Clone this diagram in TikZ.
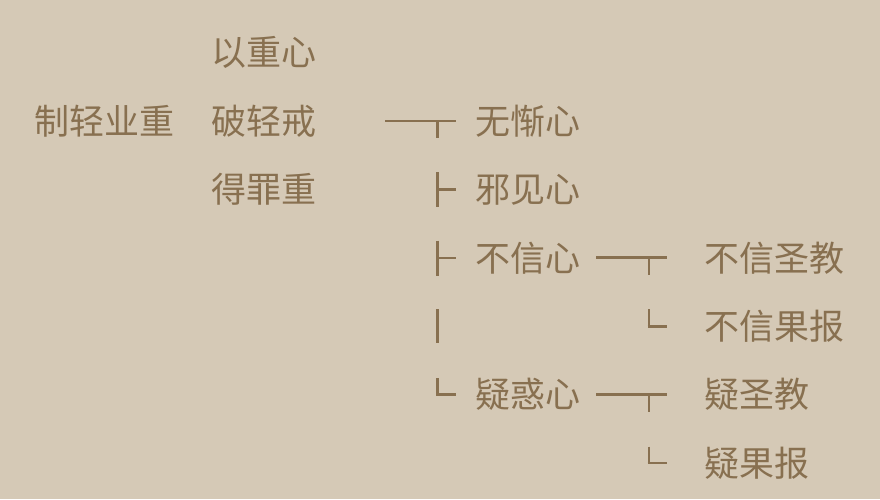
\documentclass[tikz,border=0pt]{standalone}
\usepackage{fontspec}
\newfontfamily\cjk{Noto Sans CJK SC}
\definecolor{bgc}{RGB}{213,201,182}
\definecolor{ink}{RGB}{136,112,80}
\tikzset{
  lbl/.style={anchor=west,inner sep=0pt,text=ink,font=\cjk\fontsize{35}{35}\selectfont},
  brk/.style={draw=ink,line width=2.8pt}
}
\begin{document}
\begin{tikzpicture}[x=1pt,y=-1pt]
\fill[bgc] (0,0) rectangle (880,499);
\useasboundingbox (0,0) rectangle (880,499);
% texts
\node[lbl] (a) at (34,121) {制轻业重};
\node[lbl] (b0) at (211,52.5) {以重心};
\node[lbl] (b1) at (211,121) {破轻戒};
\node[lbl] (b2) at (211,189.5) {得罪重};
\node[lbl] (c1) at (475,121) {无惭心};
\node[lbl] (c2) at (475,189.5) {邪见心};
\node[lbl] (c3) at (475,258) {不信心};
\node[lbl] (c5) at (475,394.5) {疑惑心};
\node[lbl] (d1) at (704,258) {不信圣教};
\node[lbl] (d2) at (704,326.5) {不信果报};
\node[lbl] (d3) at (704,394.5) {疑圣教};
\node[lbl] (d4) at (704,463) {疑果报};
% level 1 bracket
\coordinate (s1) at (385,121);
\coordinate (e1) at (456,121);
\coordinate (t1) at (437.5,121);
\coordinate (t1b) at (437.5,138);
\draw[brk] (s1) -- (e1);
\draw[brk] (t1) -- (t1b);
\coordinate (v2a) at (437.5,172);
\coordinate (v2b) at (437.5,207);
\coordinate (h2a) at (437.5,189.5);
\coordinate (h2b) at (456,189.5);
\draw[brk] (v2a) -- (v2b);
\draw[brk] (h2a) -- (h2b);
\coordinate (v3a) at (437.5,240.5);
\coordinate (v3b) at (437.5,275.5);
\coordinate (h3a) at (437.5,258);
\coordinate (h3b) at (456,258);
\draw[brk] (v3a) -- (v3b);
\draw[brk] (h3a) -- (h3b);
\coordinate (v4a) at (437.5,309);
\coordinate (v4b) at (437.5,343);
\draw[brk] (v4a) -- (v4b);
\coordinate (v5a) at (437.5,378);
\coordinate (v5b) at (437.5,395.7);
\coordinate (h5a) at (436.1,394.5);
\coordinate (h5b) at (456,394.5);
\draw[brk] (v5a) -- (v5b);
\draw[brk] (h5a) -- (h5b);
% level 2 brackets
\coordinate (s3) at (596,257.5);
\coordinate (e3) at (667,257.5);
\coordinate (t3) at (649,257.5);
\coordinate (t3b) at (649,274.5);
\draw[brk] (s3) -- (e3);
\draw[brk] (t3) -- (t3b);
\coordinate (l4a) at (649,309);
\coordinate (l4b) at (649,327.7);
\coordinate (l4d) at (647.6,326.5);
\coordinate (l4c) at (667,326.5);
\draw[brk] (l4a) -- (l4b);
\draw[brk] (l4d) -- (l4c);
\coordinate (s5) at (596,394.5);
\coordinate (e5) at (667,394.5);
\coordinate (t5) at (649,394.5);
\coordinate (t5b) at (649,411.5);
\draw[brk] (s5) -- (e5);
\draw[brk] (t5) -- (t5b);
\coordinate (l6a) at (649,446.5);
\coordinate (l6b) at (649,464.3);
\coordinate (l6d) at (647.6,463);
\coordinate (l6c) at (667,463);
\draw[brk] (l6a) -- (l6b);
\draw[brk] (l6d) -- (l6c);
\end{tikzpicture}
\end{document}
